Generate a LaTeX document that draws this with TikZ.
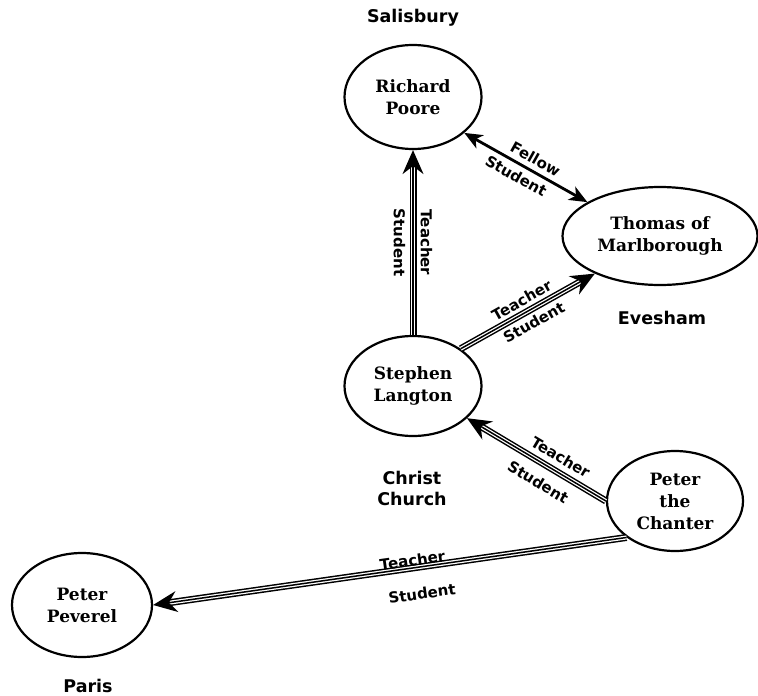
\documentclass[tikz,border=0pt]{standalone}
\usepackage{fontspec}
\setmainfont{DejaVu Serif}
\setsansfont{DejaVu Sans}
\usetikzlibrary{shapes.geometric}
\usetikzlibrary{arrows.meta}

\begin{document}
\begin{tikzpicture}[x=1pt, y=-1pt,
                          person/.style={ellipse, draw, line width=2.2pt, align=center, inner sep=0pt, font=\bfseries\fontsize{17}{22}\selectfont},
                          town/.style={align=center, font=\sffamily\bfseries\fontsize{17.5}{21}\selectfont},
                          edgelabel/.style={font=\sffamily\bfseries\fontsize{15}{17}\selectfont, inner sep=1pt},
                          teaches/.style={-{Stealth[length=24pt, width=21pt, inset=8pt]}, line width=1.5pt,
                                          preaction={draw, -, line width=7pt, shorten >=13pt},
                                          preaction={draw, -, white, line width=4pt, shorten >=13pt}},
                          fellow/.style={{Stealth[length=18pt, width=15pt, inset=5pt]}-{Stealth[length=18pt, width=15pt, inset=5pt]}, line width=2.8pt},
                      ]
                      \useasboundingbox (0,0) rectangle (758,696);

                      %Nodes
                      \node[person, minimum width=137pt, minimum height=104pt] (richard)  at (413,97)  {Richard\\Poore};
                      \node[person, minimum width=195pt, minimum height=98pt]  (thomas)   at (660,236) {Thomas of\\Marlborough};
                      \node[person, minimum width=137pt, minimum height=100pt] (stephen)  at (413,386) {Stephen\\Langton};
                      \node[person, minimum width=136pt, minimum height=100pt] (chanter)  at (675,501) {Peter\\the\\Chanter};
                      \node[person, minimum width=140pt, minimum height=104pt] (peverel)  at (82,605)  {Peter\\Peverel};

                      %Places
                      \node[town] (salisbury) at (413,18)  {Salisbury};
                      \node[town] (evesham)   at (662,318) {Evesham};
                      \node[town] (christ)    at (412,488) {Christ\\Church};
                      \node[town] (paris)     at (88,686)  {Paris};

                      %Lines
                      \draw[fellow] (richard.-35) -- (thomas.155)
                          node[edgelabel, pos=0.53, sloped, above=4pt] {Fellow}
                          node[edgelabel, pos=0.47, sloped, below=4pt] {Student};
                      \draw[teaches] (stephen) -- (richard)
                          node[edgelabel, pos=0.5, sloped, rotate=180, above=6pt] {Teacher}
                          node[edgelabel, pos=0.5, sloped, rotate=180, below=6pt] {Student};
                      \draw[teaches] (stephen.38) -- (thomas.210)
                          node[edgelabel, midway, sloped, above=5pt] {Teacher}
                          node[edgelabel, midway, sloped, below=5pt] {Student};
                      \draw[teaches] (chanter.west) -- (stephen)
                          node[edgelabel, pos=0.38, sloped, above=7pt] {Teacher}
                          node[edgelabel, pos=0.42, sloped, below=11pt] {Student};
                      \draw[teaches] (chanter.217) -- (peverel.east)
                          node[edgelabel, pos=0.45, sloped, above=0pt] {Teacher}
                          node[edgelabel, pos=0.44, sloped, below=19pt] {Student};
                  \end{tikzpicture}
\end{document}
